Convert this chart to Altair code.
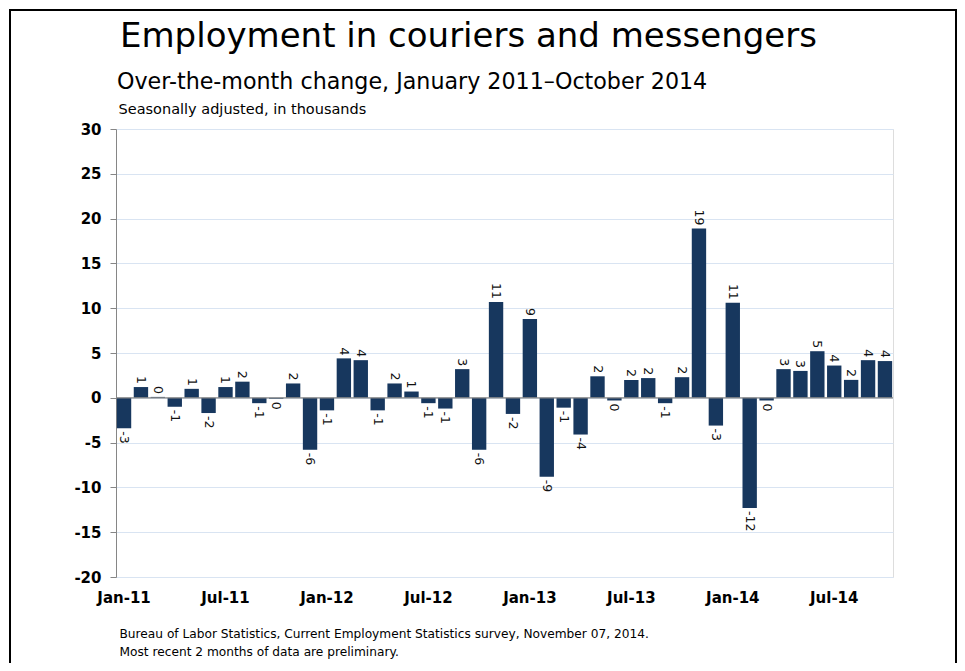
import altair as alt
import pandas as pd

# ---- data ----
month_names = ["Jan", "Feb", "Mar", "Apr", "May", "Jun",
               "Jul", "Aug", "Sep", "Oct", "Nov", "Dec"]
years = ["11", "12", "13", "14"]
months = [f"{m}-{y}" for y in years for m in month_names][:46]  # Jan-11 .. Oct-14

values = [-3.4, 1.2, 0.1, -1.0, 1.0, -1.7, 1.2, 1.8, -0.6, -0.1, 1.6, -5.8,
          -1.4, 4.4, 4.2, -1.4, 1.6, 0.7, -0.6, -1.2, 3.2, -5.8, 10.7, -1.8,
          8.8, -8.8, -1.1, -4.1, 2.4, -0.3, 2.0, 2.2, -0.6, 2.3, 18.9, -3.1,
          10.6, -12.3, -0.3, 3.2, 3.0, 5.2, 3.6, 2.0, 4.2, 4.1]

labels = ["-3", "1", "0", "-1", "1", "-2", "1", "2", "-1", "0", "2", "-6",
          "-1", "4", "4", "-1", "2", "1", "-1", "-1", "3", "-6", "11", "-2",
          "9", "-9", "-1", "-4", "2", "0", "2", "2", "-1", "2", "19", "-3",
          "11", "-12", "0", "3", "3", "5", "4", "2", "4", "4"]

x_tick_labels = ["Jan-11", "Jul-11", "Jan-12", "Jul-12",
                 "Jan-13", "Jul-13", "Jan-14", "Jul-14"]
y_ticks = [-20, -15, -10, -5, 0, 5, 10, 15, 20, 25, 30]

title_text = "Employment in couriers and messengers"
subtitle_text = "Over-the-month change, January 2011\u2013October 2014"
units_text = "Seasonally adjusted, in thousands"
footer_lines = ["Bureau of Labor Statistics, Current Employment Statistics survey, November 07, 2014.",
                "Most recent 2 months of data are preliminary."]

df = pd.DataFrame({"month": months, "value": values, "label": labels})

FONT = "DejaVu Sans"
BAR = "#17375e"
GRAY = "#868686"

x_enc = alt.X("month:N", sort=months,
              scale=alt.Scale(paddingInner=0.15, paddingOuter=0.05),
              axis=alt.Axis(
                  values=x_tick_labels,
                  title=footer_lines, titleFont=FONT, titleFontSize=12.2,
                  titleFontWeight="normal", titleColor="#000000",
                  titleAnchor="start", titleAlign="left", titleBaseline="alphabetic",
                  titleX=3, titleY=60, titleLineHeight=18,
                  labelAngle=0, labelFont=FONT, labelFontSize=15, labelFontWeight="bold",
                  labelColor="#000000", labelBaseline="top", labelPadding=13,
                  labelOverlap=False, labelFlush=False,
                  ticks=False, domain=False, grid=False))

y_enc = alt.Y("value:Q",
              scale=alt.Scale(domain=[-20, 30], nice=False, zero=False),
              axis=alt.Axis(
                  values=y_ticks, labelExpr="'' + datum.value",
                  title=units_text, titleFont=FONT, titleFontSize=14.5,
                  titleFontWeight="normal", titleColor="#000000", titleAngle=0,
                  titleAlign="left", titleBaseline="alphabetic", titleX=2, titleY=-16,
                  labelFont=FONT, labelFontSize=15, labelFontWeight="bold",
                  labelColor="#000000", labelPadding=9,
                  tickColor=GRAY, tickSize=6, domainColor=GRAY,
                  gridColor="#d9e4f2", gridWidth=1))

base = alt.Chart(df)

bars = base.mark_bar(color=BAR).encode(x=x_enc, y=y_enc)

pos_labels = base.transform_filter("datum.value >= 0").mark_text(
    angle=90, align="right", baseline="middle", dx=-3,
    font=FONT, fontSize=12.5, color="#111111").encode(
    x=alt.X("month:N", sort=months), y="value:Q", text="label:N")

neg_labels = base.transform_filter("datum.value < 0").mark_text(
    angle=90, align="left", baseline="middle", dx=3,
    font=FONT, fontSize=12.5, color="#111111").encode(
    x=alt.X("month:N", sort=months), y="value:Q", text="label:N")

zero_rule = alt.Chart(pd.DataFrame({"z": [0]})).mark_rule(
    color=GRAY, strokeWidth=1.2).encode(y="z:Q")

heads = pd.DataFrame({"t": [title_text]})
title_mark = alt.Chart(heads).mark_text(
    align="left", baseline="alphabetic", font=FONT, fontSize=34, color="#000000").encode(
    x=alt.value(4), y=alt.value(-82), text="t:N")

subs = pd.DataFrame({"t": [subtitle_text]})
subtitle_mark = alt.Chart(subs).mark_text(
    align="left", baseline="alphabetic", font=FONT, fontSize=22.2, color="#000000").encode(
    x=alt.value(1), y=alt.value(-40), text="t:N")

frame = alt.Chart(pd.DataFrame({"z": [0]})).mark_rect(
    filled=False, stroke="#000000", strokeWidth=2).encode(
    x=alt.value(-106), x2=alt.value(840), y=alt.value(-119), y2=alt.value(600))

chart = alt.layer(bars, zero_rule, pos_labels, neg_labels,
                  title_mark, subtitle_mark, frame).properties(
    width=777, height=448,
    autosize=alt.AutoSizeParams(type="none"),
    padding={"left": 108, "top": 121, "right": 64, "bottom": 86},
).configure_view(stroke=None).configure(background="white")

chart.save("out.html", embed_options={"renderer": "svg", "actions": False})
